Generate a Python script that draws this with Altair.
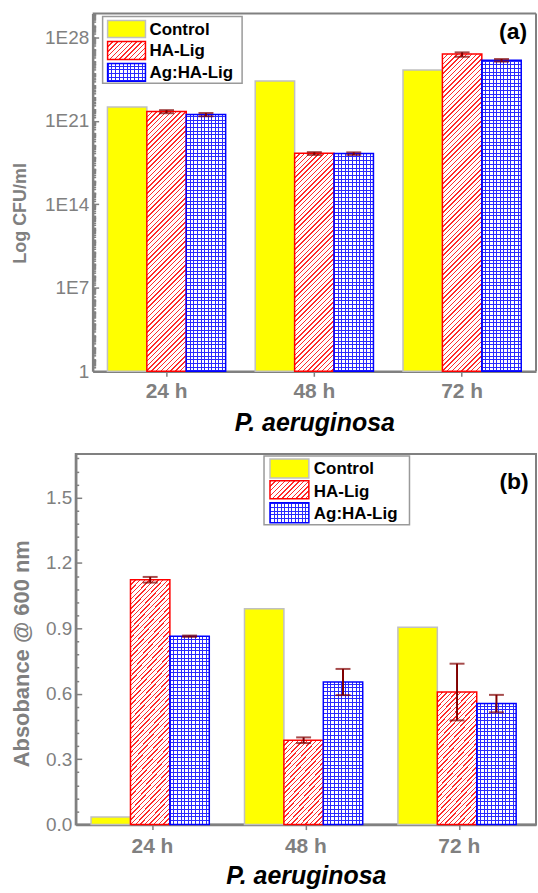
import math
import altair as alt
import pandas as pd

# ---------------- data ----------------
times = ["24 h", "48 h", "72 h"]
series = ["Control", "HA-Lig", "Ag:HA-Lig"]

cfu_control = [1.45e22, 2.2e24, 1.9e25]
cfu_ha = [6.2e21, 1.9e18, 4.0e26]
cfu_ag = [3.5e21, 1.85e18, 1.25e26]
cfu_ha_err = [1.8e21, 0.5e18, 1.6e26]
cfu_ag_err = [1.0e21, 0.45e18, 0.3e26]

abs_control = [0.035, 0.99, 0.905]
abs_ha = [1.123, 0.387, 0.608]
abs_ag = [0.864, 0.654, 0.555]
abs_ha_err = [0.013, 0.013, 0.13]
abs_ag_err = [0.003, 0.06, 0.04]

cfu_ticks = [1, 1e7, 1e14, 1e21, 1e28]
abs_ticks = [0.0, 0.3, 0.6, 0.9, 1.2, 1.5]
panel_tags = ["(a)", "(b)"]
x_title = "P. aeruginosa"
y_titles = ["Log CFU/ml", "Absobance @ 600 nm"]

# ---------------- styles ----------------
GRAY = "#808080"
YEL = "#ffff00"
RED = "#ff0000"
BLUE = "#0000ff"
ERR = "#800000"
FONT = "Liberation Sans"


def make_df(ctrl, ha, ag):
    rows = []
    for i, t in enumerate(times):
        for s, vals in zip(series, (ctrl, ha, ag)):
            rows.append({"time": t, "series": s, "value": vals[i]})
    return pd.DataFrame(rows)


def make_err(ha, ag, ha_e, ag_e):
    rows = []
    for i, t in enumerate(times):
        for s, vals, errs in ((series[1], ha, ha_e), (series[2], ag, ag_e)):
            rows.append({"time": t, "series": s,
                         "lower": vals[i] - errs[i], "upper": vals[i] + errs[i]})
    return pd.DataFrame(rows)


def stripe_stops(n, frac, line, gap):
    out = []
    for k in range(n):
        a = k / n
        b = a + frac
        c = (k + 1) / n
        out += [(a, line), (b, line), (b, gap), (c, gap)]
    return out


def stops_js(lst):
    return "[" + ",".join("{offset:%.5f,color:'%s'}" % (o, c) for o, c in lst) + "]"


def stops_dicts(lst):
    return [{"offset": round(o, 5), "color": c} for o, c in lst]


# diagonal hatch ("/") for HA-Lig
D_P, D_N, D_LW = 3.4, 100, 1.0
D_L = D_P * D_N
D_STOPS = stripe_stops(D_N, D_LW / D_L, "#ff2a2a", "#ffffff")
# horizontal lines of the grid for Ag:HA-Lig
H_P, H_N, H_LW = 3.7, 100, 1.0
H_L = H_P * H_N
H_STOPS = stripe_stops(H_N, H_LW / H_L, "#2a2aff", "#ffffff")


def diag_expr(h, w):
    K = math.sqrt(2) * D_L
    den = "(%f+pow(%s,2))" % (w * w, h)
    return ("{gradient:'linear',x1:0,y1:0,x2:%f*%f/%s,y2:%f*(%s)/%s,stops:%s}"
            % (K, w, den, K, h, den, stops_js(D_STOPS)))


def diag_const(w, h):
    K = math.sqrt(2) * D_L
    den = w * w + h * h
    return {"gradient": "linear", "x1": 0, "y1": 0, "x2": K * w / den,
            "y2": K * h / den, "stops": stops_dicts(D_STOPS)}


def hstripe_expr(h):
    return ("{gradient:'linear',x1:0,y1:1,x2:0,y2:1-%f/(%s),stops:%s}"
            % (H_L, h, stops_js(H_STOPS)))


def hstripe_const(h):
    return {"gradient": "linear", "x1": 0, "y1": 1, "x2": 0, "y2": 1 - H_L / h,
            "stops": stops_dicts(H_STOPS)}


def vstripe_const(w):
    n = max(1, round(w / 3.7))
    st = stripe_stops(n, 1.0 / w, "#2a2aff", "rgba(255,255,255,0)")
    return {"gradient": "linear", "x1": 0, "y1": 0, "x2": 1, "y2": 0,
            "stops": stops_dicts(st)}


def panel(df, err, yscale, base_val, left_axis, tick_vals, tick_test, W, H,
          x0, h_expr, lg, tag, tag_xy, x_lp, x_ty, frame):
    inner_w = W - x0
    wbar = (inner_w / 3.0) * 0.8 / 3.0
    x_axis = alt.Axis(title=x_title, labelAngle=0, labelFontWeight="bold",
                      labelFontSize=21, labelColor=GRAY, labelPadding=x_lp,
                      tickSize=5, tickColor=GRAY, tickWidth=1.5,
                      domainColor=GRAY, domainWidth=2.5, titleFontSize=25,
                      titleFontWeight="bold", titleFontStyle="italic",
                      titleColor="black", titleY=x_ty, titleBaseline="middle",
                      titleX=x0 + inner_w / 2.0, grid=False)
    x_enc = alt.X("time:N", sort=times,
                  scale=alt.Scale(domain=times, paddingInner=0.2, paddingOuter=0.1,
                                  range=[x0, W]),
                  axis=x_axis)
    xo_enc = alt.XOffset("series:N", sort=series, scale=alt.Scale(domain=series))
    y_enc = alt.Y("value:Q", scale=yscale, axis=left_axis)

    base = alt.Chart(df).encode(x=x_enc, xOffset=xo_enc, y=y_enc,
                                y2=alt.datum(base_val))
    ctrl = base.transform_filter(alt.datum.series == series[0]).mark_bar(
        fill=YEL, stroke="#c0c0c0", strokeWidth=1.5)
    ha = base.transform_filter(alt.datum.series == series[1]).mark_bar(
        fill={"expr": diag_expr(h_expr, wbar)}, stroke=RED, strokeWidth=1.5)
    ag1 = base.transform_filter(alt.datum.series == series[2]).mark_bar(
        fill={"expr": hstripe_expr(h_expr)}, strokeWidth=0)
    ag2 = base.transform_filter(alt.datum.series == series[2]).mark_bar(
        fill=vstripe_const(wbar), stroke=BLUE, strokeWidth=1.5)

    ebase = alt.Chart(err).encode(x=x_enc, xOffset=xo_enc)
    rule = ebase.mark_rule(color=ERR, strokeWidth=2).encode(
        y=alt.Y("lower:Q", scale=yscale, axis=left_axis), y2="upper:Q")
    capl = ebase.mark_tick(color=ERR, thickness=2, size=15).encode(
        y=alt.Y("lower:Q", scale=yscale, axis=left_axis))
    capu = ebase.mark_tick(color=ERR, thickness=2, size=15).encode(
        y=alt.Y("upper:Q", scale=yscale, axis=left_axis))

    layers = [ctrl, ha, ag1, ag2, rule, capl, capu]

    one = alt.Chart(pd.DataFrame({"label": [series[0]]}))
    if frame:
        # top and right sides of the plot frame
        layers.append(one.mark_rule(color=GRAY, strokeWidth=2).encode(
            x=alt.value(x0), x2=alt.value(W), y=alt.value(0)))
        layers.append(one.mark_rule(color=GRAY, strokeWidth=2).encode(
            x=alt.value(W), y=alt.value(0), y2=alt.value(H)))

    # legend
    bx0, by0, bx1, by1 = lg["box"]
    layers.append(one.mark_rect(fill="white", stroke="#9a9a9a", strokeWidth=1.5).encode(
        x=alt.value(bx0), x2=alt.value(bx1), y=alt.value(by0), y2=alt.value(by1)))
    sx0, sx1 = lg["sw_x"]
    sw_w = sx1 - sx0
    for i, s in enumerate(series):
        sy0, sy1 = lg["sw_y"][i]
        sw_h = sy1 - sy0
        d = alt.Chart(pd.DataFrame({"label": [s]}))
        pos = dict(x=alt.value(sx0), x2=alt.value(sx1), y=alt.value(sy0), y2=alt.value(sy1))
        if i == 0:
            layers.append(d.mark_rect(fill=YEL, stroke="#c0c0c0", strokeWidth=1.5).encode(**pos))
        elif i == 1:
            layers.append(d.mark_rect(fill=diag_const(sw_w, sw_h), stroke=RED,
                                      strokeWidth=1.5).encode(**pos))
        else:
            layers.append(d.mark_rect(fill=hstripe_const(sw_h), strokeWidth=0).encode(**pos))
            layers.append(d.mark_rect(fill=vstripe_const(sw_w), stroke=BLUE,
                                      strokeWidth=1.5).encode(**pos))
        layers.append(d.mark_text(align="left", baseline="middle", fontSize=17,
                                  fontWeight="bold", color="black").encode(
            text="label:N", x=alt.value(lg["text_x"]), y=alt.value(lg["text_y"][i])))

    layers.append(alt.Chart(pd.DataFrame({"tag": [tag]})).mark_text(
        align="center", baseline="middle", fontSize=23, fontWeight="bold",
        color="black").encode(text="tag:N", x=alt.value(tag_xy[0]), y=alt.value(tag_xy[1])))

    inner = alt.layer(*layers)

    tick_axis = alt.Axis(orient="right", offset=-(W - x0), labels=False, domain=False,
                         title=None, values=tick_vals, grid=False,
                         tickColor=GRAY, tickWidth=1.5,
                         tickSize={"condition": {"test": tick_test, "value": 6}, "value": 3})
    ticks = alt.Chart(df).mark_point(opacity=0).encode(
        y=alt.Y("value:Q", scale=yscale, axis=tick_axis))

    out = alt.layer(inner, ticks).resolve_scale(y="independent")
    if frame:
        out = out.properties(width=W, height=H, view=alt.ViewConfig(stroke="transparent"))
    else:
        out = out.properties(width=W, height=H)
    return out


W = 462
# ---------------- panel (a) ----------------
X0_1 = 17
H1 = 359
yscale1 = alt.Scale(type="log", domain=[1, 1e30], nice=False)
left1 = alt.Axis(values=cfu_ticks, offset=-X0_1,
                 labelExpr="datum.value < 2 ? '1' : '1E' + round(log(datum.value)/LN10)",
                 ticks=False, domainColor=GRAY, domainWidth=2.5, labelColor=GRAY,
                 labelFontSize=19, labelPadding=4, title=y_titles[0], titleColor=GRAY,
                 titleFontSize=18, titleFontWeight="bold", titleAngle=270,
                 titleX=-72, titleY=200, titleBaseline="middle", titleAlign="center",
                 grid=False)
ticks1 = [float(m) * 10.0 ** k for k in range(30) for m in range(1, 10)] + [1e30]
test1 = ("abs(log(datum.value)/LN10 - round(log(datum.value)/LN10)) < 1e-6 && "
         "round(log(datum.value)/LN10) % 7 == 0")
h1 = "(%f*log(datum.value)/%f)" % (H1, 30 * math.log(10))
lg1 = {"box": (27, 3, 167, 70), "sw_x": (32, 70),
       "sw_y": [(7, 24), (28, 46), (50, 68)], "text_x": 74, "text_y": [16, 38, 60]}
top = panel(make_df(cfu_control, cfu_ha, cfu_ag),
            make_err(cfu_ha, cfu_ag, cfu_ha_err, cfu_ag_err),
            yscale1, 1, left1, ticks1, test1, W, H1, X0_1, h1, lg1, panel_tags[0],
            (439, 18), 4, 51, True)

# ---------------- panel (b) ----------------
H2 = 372
yscale2 = alt.Scale(domain=[0, 1.7], nice=False, zero=True)
left2 = alt.Axis(values=abs_ticks, format=".1f", ticks=False, domainColor=GRAY,
                 domainWidth=2.5, labelColor=GRAY, labelFontSize=19, labelPadding=4,
                 title=y_titles[1], titleColor=GRAY, titleFontSize=22,
                 titleFontWeight="bold", titleAngle=270, titleX=-54, titleY=200,
                 titleBaseline="middle", titleAlign="center", grid=False)
ticks2 = [round(i * 0.06, 2) for i in range(29)]
test2 = "abs(datum.value/0.3 - round(datum.value/0.3)) < 1e-6"
h2 = "(%f*datum.value/1.7)" % H2
lg2 = {"box": (189, 2, 335, 71), "sw_x": (195, 234),
       "sw_y": [(5, 24), (27, 45), (49, 69)], "text_x": 239, "text_y": [15, 38, 60]}
bottom = panel(make_df(abs_control, abs_ha, abs_ag),
               make_err(abs_ha, abs_ag, abs_ha_err, abs_ag_err),
               yscale2, 0, left2, ticks2, test2, W, H2, 0, h2, lg2, panel_tags[1],
               (440, 28), 6, 51, False)

chart = alt.concat(top, bottom, columns=1, spacing=17).properties(
    padding={"left": 10, "top": 10, "right": 0, "bottom": 0},
    background="white",
).configure(font=FONT).configure_view(stroke=GRAY, strokeWidth=2)

chart.save("out.html", embed_options={"renderer": "svg", "actions": False})
